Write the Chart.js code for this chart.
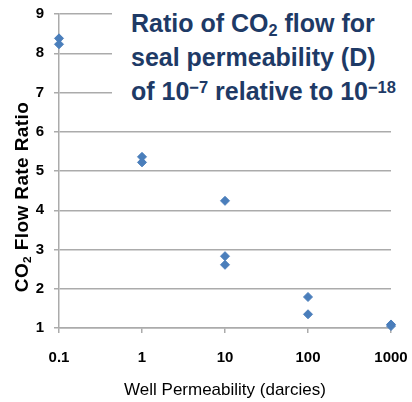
<!DOCTYPE html>
<html>
<head>
<meta charset="utf-8">
<script src="https://cdn.jsdelivr.net/npm/chart.js@4.4.1/dist/chart.umd.min.js"></script>
<style>
  html, body { margin: 0; padding: 0; background: #fff; }
  #wrap { position: relative; width: 412px; height: 402px; overflow: hidden; }
  #c { position: absolute; left: 0; top: 0; }
  #title {
    position: absolute; left: 112px; top: 0; width: 300px; height: 112px;
    background: #fff; box-sizing: border-box; padding: 6px 0 0 19px;
    font-family: 'Liberation Sans', Arial, sans-serif; font-weight: bold;
    font-size: 25px; line-height: 34px; color: #1E3A66; white-space: nowrap;
  }
  #title sup { font-size: 0.66em; position: relative; top: -0.42em; vertical-align: baseline; line-height: 0; }
  #title sub { font-size: 0.65em; position: relative; top: 0.24em; vertical-align: baseline; line-height: 0; }
  #ytitle {
    position: absolute; left: -88px; top: 185px; width: 220px; height: 24px;
    line-height: 24px; text-align: center; transform: rotate(-90deg);
    font-family: 'Liberation Sans', Arial, sans-serif; font-weight: bold;
    font-size: 19px; letter-spacing: 0.4px; color: #000; white-space: nowrap;
  }
  #ytitle sub { font-size: 0.62em; position: relative; top: 0.25em; vertical-align: baseline; line-height: 0; }
</style>
</head>
<body>
<div id="wrap">
  <canvas id="c" width="412" height="402"></canvas>
  <div id="ytitle">CO<sub>2</sub> Flow Rate Ratio</div>
  <div id="title">Ratio of CO<sub>2</sub> flow for<br>seal permeability (D)<br>of 10<sup>&#8722;7</sup> relative to 10<sup>&#8722;18</sup></div>
</div>
<script>
// Data
const wellPermeability = [0.1, 0.1, 1, 1, 10, 10, 10, 100, 100, 1000, 1000];
const flowRateRatio    = [8.38, 8.23, 5.36, 5.22, 4.24, 2.83, 2.61, 1.79, 1.35, 1.09, 1.05];
const xTickValues = [0.1, 1, 10, 100, 1000];
const xTickLabels = ['0.1', '1', '10', '100', '1000'];
const yMin = 1, yMax = 9, yStep = 1;
const xAxisTitle = 'Well Permeability (darcies)';

const points = wellPermeability.map((x, i) => ({ x: x, y: flowRateRatio[i] }));
const gridColor = '#ABABAB';

new Chart(document.getElementById('c'), {
  type: 'scatter',
  data: {
    datasets: [{
      data: points,
      pointStyle: 'rectRot',
      pointRadius: 4.5,
      pointHoverRadius: 4.5,
      backgroundColor: '#4A7EBB',
      borderColor: '#4A7EBB',
      borderWidth: 1,
      clip: false
    }]
  },
  options: {
    responsive: false,
    animation: false,
    devicePixelRatio: 1,
    layout: { padding: { top: 14, right: 21, bottom: 0, left: 0 } },
    plugins: { legend: { display: false }, tooltip: { enabled: false } },
    scales: {
      x: {
        type: 'logarithmic',
        min: 0.1, max: 1000,
        afterBuildTicks: (scale) => { scale.ticks = xTickValues.map(v => ({ value: v })); },
        afterFit: (scale) => { scale.height = 74; scale.paddingLeft = 0; scale.paddingRight = 0; },
        grid: { display: true, drawOnChartArea: false, drawTicks: true, tickLength: 5, color: gridColor, lineWidth: 1.5 },
        border: { display: true, color: gridColor, width: 1.5 },
        ticks: {
          autoSkip: false, maxRotation: 0, padding: 16, color: '#000',
          font: { family: "'Liberation Sans', Arial, sans-serif", size: 15, weight: 'bold' },
          callback: (value, index) => xTickLabels[index]
        },
        title: {
          display: true, text: xAxisTitle, color: '#000',
          font: { family: "'Liberation Sans', Arial, sans-serif", size: 17, weight: 'normal' },
          padding: { top: 0, bottom: 1 }
        }
      },
      y: {
        type: 'linear',
        min: yMin, max: yMax,
        afterFit: (scale) => { scale.width = 59; scale.paddingTop = 0; scale.paddingBottom = 0; },
        grid: { display: true, drawTicks: true, tickLength: 5, color: gridColor, lineWidth: 1.5 },
        border: { display: true, color: gridColor, width: 1.5 },
        ticks: {
          stepSize: yStep, padding: 10, color: '#000',
          font: { family: "'Liberation Sans', Arial, sans-serif", size: 15, weight: 'bold' }
        }
      }
    }
  }
});
</script>
</body>
</html>
